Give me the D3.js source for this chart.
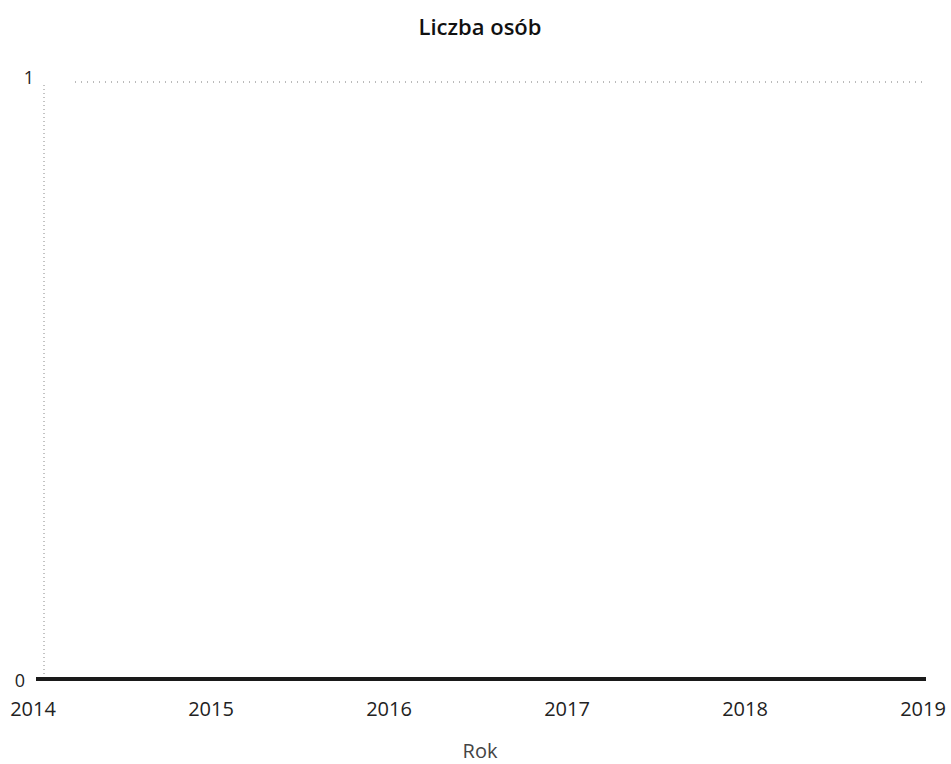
<!DOCTYPE html>
<meta charset="utf-8">
<head>
  <title>Liczba osób</title>
  <style>
    body { margin: 0; background: #fff; }
    text { font-family: "Open Sans", sans-serif; }
  </style>
</head>
<body>
<script src="https://d3js.org/d3.v7.min.js"></script>
<div id="chart"></div>
<script>

// Data
var years = [2014, 2015, 2016, 2017, 2018, 2019];
var counts = [0, 0, 0, 0, 0, 0];
var yTicks = [0, 1];

var titleText = "Liczba osób",
    xTitle = "Rok";

var width = 951,
    height = 764;

var svg = d3.select("#chart").append("svg")
    .attr("width", width)
    .attr("height", height);

var x = d3.scaleLinear()
    .domain([2014, 2019])
    .range([36, 926]);

var y = d3.scaleLinear()
    .domain([0, 1])
    .range([679, 82]);

// dotted y axis line
svg.append("line")
    .attr("x1", 44).attr("x2", 44)
    .attr("y1", y(1) + 3).attr("y2", y(0) - 3)
    .style("stroke", "#888")
    .style("stroke-width", 1)
    .style("stroke-dasharray", "1,3");

// gridline at top tick
svg.append("g").selectAll("line.grid")
    .data(yTicks.filter(function(d) { return d > 0; }))
    .enter().append("line")
      .attr("class", "grid")
      .attr("x1", 75).attr("x2", 922)
      .attr("y1", function(d) { return y(d); })
      .attr("y2", function(d) { return y(d); })
      .style("stroke", "#777")
      .style("stroke-width", 1)
      .style("stroke-dasharray", "1,5");

// y tick labels
svg.append("g").selectAll("text.ytick")
    .data(yTicks)
    .enter().append("text")
      .attr("class", "ytick")
      .attr("x", function(d) { return d === 0 ? 20 : 29; })
      .attr("y", function(d) { return d === 0 ? y(d) + 2 : y(d) - 4; })
      .attr("dy", "0.35em")
      .attr("text-anchor", "middle")
      .style("font-size", "18px")
      .style("fill", "#222")
      .text(function(d) { return d; });

// x tick labels
svg.append("g").selectAll("text.xtick")
    .data(years)
    .enter().append("text")
      .attr("class", "xtick")
      .attr("x", function(d) { return x(d) - 3; })
      .attr("y", 716)
      .attr("text-anchor", "middle")
      .style("font-size", "20px")
      .style("fill", "#222")
      .text(function(d) { return d; });

// the line
var line = d3.line()
    .x(function(d, i) { return x(years[i]); })
    .y(function(d) { return y(d); });

svg.append("path")
    .datum(counts)
    .attr("d", line)
    .style("fill", "none")
    .style("stroke", "#1a1a1a")
    .style("stroke-width", 4);

// titles
svg.append("text")
    .attr("x", 480)
    .attr("y", 35)
    .attr("text-anchor", "middle")
    .style("font-size", "22px")
    .style("font-weight", "600")
    .style("fill", "#111")
    .text(titleText);

svg.append("text")
    .attr("x", 480)
    .attr("y", 758)
    .attr("text-anchor", "middle")
    .style("font-size", "20px")
    .style("fill", "#444")
    .text(xTitle);

</script>
</body>
